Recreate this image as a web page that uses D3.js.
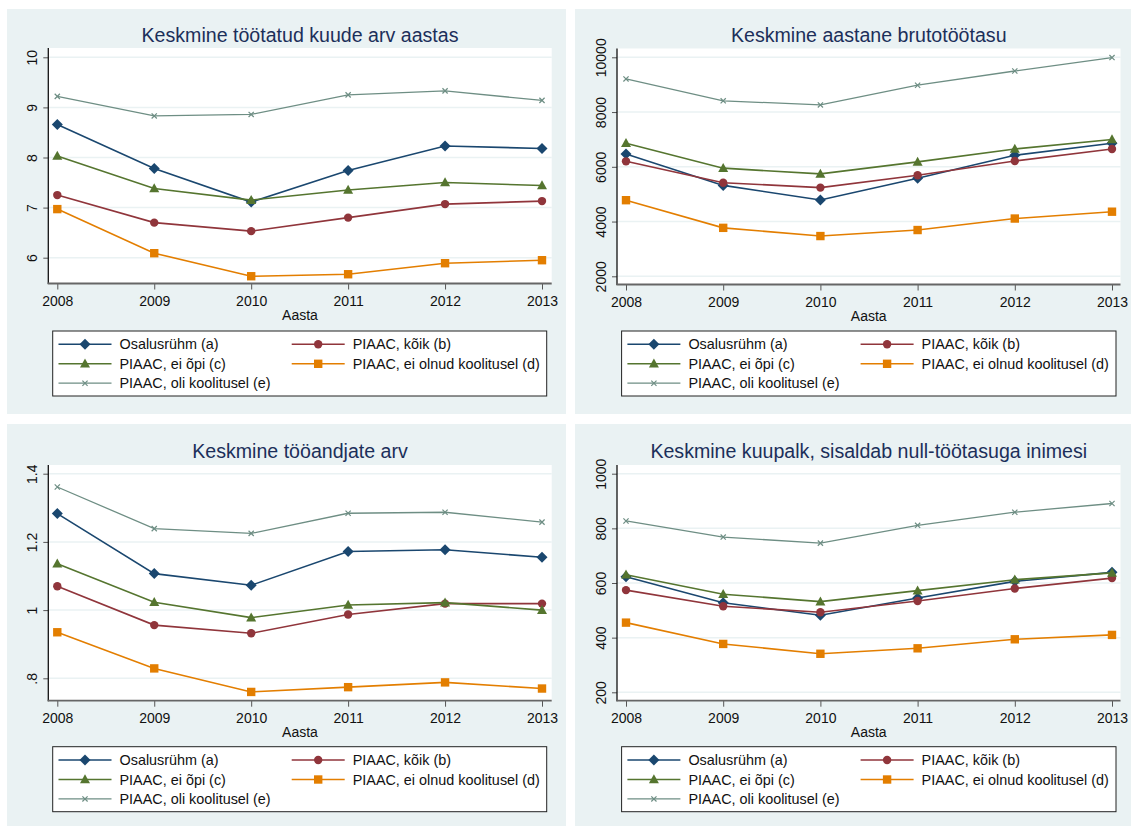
<!DOCTYPE html>
<html><head><meta charset="utf-8">
<script src="https://cdn.jsdelivr.net/npm/d3@7"></script>
<style>
body{margin:0;background:#fff}
svg{display:block}
text{font-family:"Liberation Sans",Arial,Helvetica,sans-serif}
</style>
</head><body>
<svg id="chart" width="1131" height="827"></svg>
<script>
// ---------------- DATA ----------------
const years = [2008, 2009, 2010, 2011, 2012, 2013];
const seriesNames = ["Osalusrühm (a)", "PIAAC, kõik (b)", "PIAAC, ei õpi (c)", "PIAAC, ei olnud koolitusel (d)", "PIAAC, oli koolitusel (e)"];
const seriesColors = ["#1a476f", "#90353b", "#55752f", "#e37e00", "#6e8e84"];
const seriesSymbols = ["diamond", "circle", "triangle", "square", "x"];
const panelTitles = ["Keskmine töötatud kuude arv aastas", "Keskmine aastane brutotöötasu", "Keskmine tööandjate arv", "Keskmine kuupalk, sisaldab null-töötasuga inimesi"];
const xAxisTitle = "Aasta";

// Panel 1: average months worked per year
const months_a = [8.66, 7.78, 7.11, 7.74, 8.23, 8.18];
const months_b = [7.25, 6.70, 6.53, 6.80, 7.07, 7.13];
const months_c = [8.03, 7.38, 7.15, 7.35, 7.50, 7.44];
const months_d = [6.97, 6.09, 5.63, 5.67, 5.89, 5.95];
const months_e = [9.22, 8.83, 8.86, 9.25, 9.33, 9.14];
const monthsTicks = [6, 7, 8, 9, 10];
const monthsTickLabels = ["6", "7", "8", "9", "10"];

// Panel 2: average annual gross wage
const wage_a = [6470, 5320, 4790, 5580, 6420, 6860];
const wage_b = [6200, 5420, 5240, 5690, 6210, 6650];
const wage_c = [6860, 5950, 5740, 6180, 6650, 7000];
const wage_d = [4780, 3770, 3470, 3690, 4110, 4360];
const wage_e = [9210, 8410, 8260, 8980, 9500, 9990];
const wageTicks = [2000, 4000, 6000, 8000, 10000];
const wageTickLabels = ["2000", "4000", "6000", "8000", "10000"];

// Panel 3: average number of employers
const employers_a = [1.283, 1.107, 1.073, 1.172, 1.177, 1.155];
const employers_b = [1.070, 0.956, 0.932, 0.987, 1.019, 1.019];
const employers_c = [1.136, 1.023, 0.978, 1.015, 1.022, 1.000];
const employers_d = [0.935, 0.829, 0.760, 0.774, 0.788, 0.770];
const employers_e = [1.361, 1.239, 1.225, 1.284, 1.287, 1.258];
const employersTicks = [0.8, 1.0, 1.2, 1.4];
const employersTickLabels = [".8", "1", "1.2", "1.4"];

// Panel 4: average monthly wage incl. zero earners
const monthly_a = [623, 528, 482, 545, 606, 639];
const monthly_b = [574, 515, 493, 534, 580, 618];
const monthly_c = [630, 559, 532, 572, 612, 637];
const monthly_d = [455, 377, 341, 361, 394, 410];
const monthly_e = [827, 768, 746, 811, 859, 891];
const monthlyTicks = [200, 400, 600, 800, 1000];
const monthlyTickLabels = ["200", "400", "600", "800", "1000"];

// ---------------- LAYOUT ----------------
const panels = [
  {title: panelTitles[0], series: [months_a, months_b, months_c, months_d, months_e], ticks: monthsTicks, tickLabels: monthsTickLabels,
   box: [7, 9, 559, 405], plot: [48.3, 48, 551.7, 283.5], xRange: [57.3, 542], yRange: [257.7, 57.3], titleY: 35, legend: [52.7, 331, 494, 65]},
  {title: panelTitles[1], series: [wage_a, wage_b, wage_c, wage_d, wage_e], ticks: wageTicks, tickLabels: wageTickLabels,
   box: [575, 9, 556, 405], plot: [617, 48.5, 1120.5, 284.5], xRange: [626, 1112], yRange: [276.3, 57.3], titleY: 35, legend: [621.6, 331, 494.4, 65]},
  {title: panelTitles[2], series: [employers_a, employers_b, employers_c, employers_d, employers_e], ticks: employersTicks, tickLabels: employersTickLabels,
   box: [7, 424, 559, 402], plot: [48.3, 465, 551.7, 700.7], xRange: [57.3, 542], yRange: [678.3, 473.7], titleY: 451, legend: [52.7, 746.7, 494, 65]},
  {title: panelTitles[3], series: [monthly_a, monthly_b, monthly_c, monthly_d, monthly_e], ticks: monthlyTicks, tickLabels: monthlyTickLabels,
   box: [575, 424, 556, 402], plot: [617, 465, 1120.5, 700.7], xRange: [626, 1112], yRange: [692.3, 473.7], titleY: 451, legend: [621.6, 746.7, 494.4, 65]}
];

const svg = d3.select("#chart");
svg.append("rect").attr("width", 1131).attr("height", 827).attr("fill", "#ffffff");

function markerPath(sym) {
  switch (sym) {
    case "diamond": return "M0,-5.5L5.5,0L0,5.5L-5.5,0Z";
    case "triangle": return "M0,-5.2L5,3.8L-5,3.8Z";
    case "square": return "M-4.2,-4.2L4.2,-4.2L4.2,4.2L-4.2,4.2Z";
    case "x": return "M-2.6,-2.6L2.6,2.6M-2.6,2.6L2.6,-2.6";
    default: return null;
  }
}
function drawMarker(g, sym, color, x, y) {
  if (sym === "circle") {
    g.append("circle").attr("cx", x).attr("cy", y).attr("r", 4.2).attr("fill", color);
  } else if (sym === "x") {
    g.append("path").attr("d", markerPath(sym)).attr("transform", `translate(${x},${y})`)
      .attr("stroke", color).attr("stroke-width", 1.2).attr("fill", "none");
  } else {
    g.append("path").attr("d", markerPath(sym)).attr("transform", `translate(${x},${y})`).attr("fill", color);
  }
}

panels.forEach(p => {
  const g = svg.append("g");
  const [bx, by, bw, bh] = p.box;
  g.append("rect").attr("x", bx).attr("y", by).attr("width", bw).attr("height", bh).attr("fill", "#eaf2f3");

  const [px0, py0, px1, py1] = p.plot;
  g.append("rect").attr("x", px0).attr("y", py0).attr("width", px1 - px0).attr("height", py1 - py0).attr("fill", "#ffffff");

  const x = d3.scaleLinear().domain([years[0], years[years.length - 1]]).range(p.xRange);
  const y = d3.scaleLinear().domain([p.ticks[0], p.ticks[p.ticks.length - 1]]).range(p.yRange);

  // grid lines
  g.append("g").selectAll("line").data(p.ticks).join("line")
    .attr("x1", px0).attr("x2", px1).attr("y1", d => y(d)).attr("y2", d => y(d))
    .attr("stroke", "#eaf2f3").attr("stroke-width", 1.5);

  // title
  g.append("text").attr("x", (px0 + px1) / 2).attr("y", p.titleY).attr("text-anchor", "middle")
    .attr("dominant-baseline", "central").attr("font-size", 19.6).attr("fill", "#1c2f5a").text(p.title);

  // y axis
  const yAxis = d3.axisLeft(y).tickValues(p.ticks).tickFormat((d, i) => p.tickLabels[i]).tickSize(5).tickPadding(4);
  const ya = g.append("g").attr("transform", `translate(${px0},0)`).call(yAxis);
  ya.select(".domain").remove();
  ya.selectAll(".tick line").attr("stroke", "#555").attr("stroke-width", 1);
  ya.selectAll(".tick text").attr("x", 0).attr("dy", null)
    .attr("transform", d => `translate(-16,0) rotate(-90)`)
    .attr("text-anchor", "middle").attr("dominant-baseline", "central")
    .attr("font-size", 14).attr("fill", "#111").attr("font-family", "Liberation Sans, Arial, sans-serif");
  g.append("line").attr("x1", px0).attr("x2", px0).attr("y1", py0).attr("y2", py1 + 0.5)
    .attr("stroke", "#111").attr("stroke-width", 1.3);

  // x axis
  const xAxis = d3.axisBottom(x).tickValues(years).tickFormat(d3.format("d")).tickSize(6).tickPadding(4);
  const xa = g.append("g").attr("transform", `translate(0,${py1})`).call(xAxis);
  xa.select(".domain").remove();
  xa.selectAll(".tick line").attr("stroke", "#555").attr("stroke-width", 1);
  xa.selectAll(".tick text").attr("y", 17.5).attr("dy", null).attr("dominant-baseline", "central")
    .attr("font-size", 14).attr("fill", "#111").attr("font-family", "Liberation Sans, Arial, sans-serif");
  g.append("line").attr("x1", px0 - 0.6).attr("x2", px1).attr("y1", py1).attr("y2", py1)
    .attr("stroke", "#666").attr("stroke-width", 1.8);

  g.append("text").attr("x", (px0 + px1) / 2).attr("y", py1 + 31.5).attr("text-anchor", "middle")
    .attr("dominant-baseline", "central").attr("font-size", 14).attr("fill", "#111").text(xAxisTitle);

  // series
  const line = d3.line().x((d, i) => x(years[i])).y(d => y(d));
  p.series.forEach((vals, si) => {
    const sg = g.append("g");
    sg.append("path").attr("d", line(vals)).attr("fill", "none")
      .attr("stroke", seriesColors[si]).attr("stroke-width", si === 4 ? 1.3 : 1.6);
    vals.forEach((v, i) => drawMarker(sg, seriesSymbols[si], seriesColors[si], x(years[i]), y(v)));
  });

  // legend
  const [lx, ly, lw, lh] = p.legend;
  const lg = g.append("g");
  lg.append("rect").attr("x", lx).attr("y", ly).attr("width", lw).attr("height", lh)
    .attr("fill", "#ffffff").attr("stroke", "#222").attr("stroke-width", 1);
  const colOff = [0, 233.2];
  const rowOff = [13.3, 32.8, 52.2];
  seriesNames.forEach((name, si) => {
    const col = si % 2, row = Math.floor(si / 2);
    const kx0 = lx + 5.8 + colOff[col];
    const ky = ly + rowOff[row];
    lg.append("line").attr("x1", kx0).attr("x2", kx0 + 53).attr("y1", ky).attr("y2", ky)
      .attr("stroke", seriesColors[si]).attr("stroke-width", si === 4 ? 1.3 : 1.6);
    drawMarker(lg, seriesSymbols[si], seriesColors[si], kx0 + 26.5, ky);
    lg.append("text").attr("x", kx0 + 61).attr("y", ky).attr("dominant-baseline", "central")
      .attr("font-size", 14.4).attr("fill", "#111").text(name);
  });
});
</script>
</body></html>
